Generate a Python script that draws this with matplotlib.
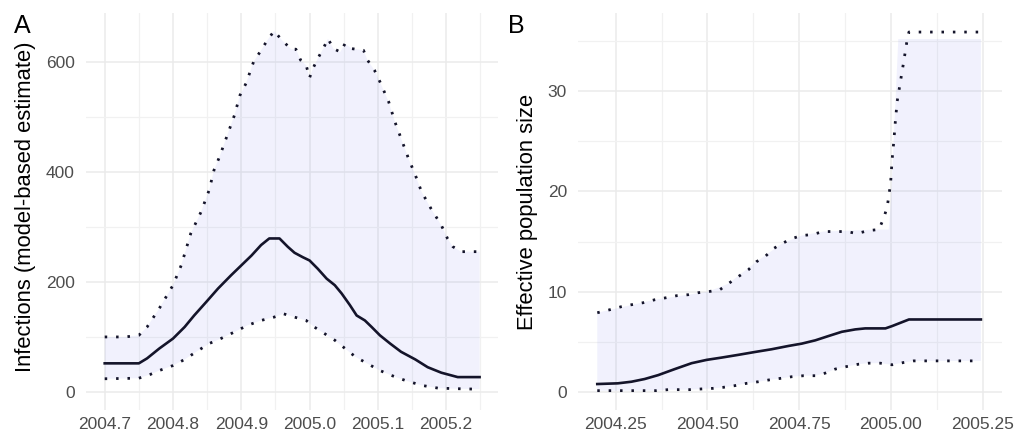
import numpy as np
import matplotlib
matplotlib.use("Agg")
import matplotlib.pyplot as plt
from matplotlib.ticker import MultipleLocator, FormatStrFormatter

plt.rcParams['font.family'] = ['Liberation Sans', 'DejaVu Sans']

# panel A: infections
a_hi_x = [2004.7, 2004.73, 2004.75, 2004.762, 2004.78, 2004.80, 2004.812, 2004.826, 2004.841, 2004.853,
          2004.86, 2004.868, 2004.877, 2004.89, 2004.898, 2004.907, 2004.918, 2004.929, 2004.938, 2004.948,
          2004.96, 2004.973, 2004.98, 2004.987, 2004.995, 2005.0, 2005.005, 2005.012, 2005.02, 2005.027,
          2005.035, 2005.045, 2005.052, 2005.062, 2005.079, 2005.085, 2005.095, 2005.103, 2005.116, 2005.125,
          2005.134, 2005.145, 2005.155, 2005.164, 2005.178, 2005.193, 2005.202, 2005.21, 2005.222, 2005.249]
a_hi = [100, 100, 103, 118, 152, 194, 230, 288, 327, 367,
        403, 427, 458, 503, 539, 561, 600, 621, 639, 656,
        639, 623, 623, 603, 594, 571, 588, 606, 624, 642,
        624, 618, 633, 624, 621, 603, 585, 564, 527, 491,
        461, 424, 394, 364, 333, 303, 279, 264, 255, 255]

a_mid_x = [2004.7, 2004.75, 2004.762, 2004.78, 2004.80, 2004.817, 2004.831, 2004.849, 2004.866, 2004.885,
           2004.9, 2004.915, 2004.929, 2004.941, 2004.956, 2004.968, 2004.978, 2004.99, 2005.0, 2005.012,
           2005.025, 2005.037, 2005.047, 2005.059, 2005.069, 2005.081, 2005.091, 2005.103, 2005.118, 2005.134,
           2005.155, 2005.173, 2005.193, 2005.217, 2005.249]
a_mid = [52, 52, 61, 79, 97, 118, 139, 164, 188, 212,
         230, 248, 267, 279, 279, 264, 253, 245, 239, 224,
         206, 194, 179, 158, 139, 130, 118, 103, 88, 73,
         59, 45, 35, 27, 27]

a_lo_x = [2004.7, 2004.75, 2004.767, 2004.78, 2004.80, 2004.817, 2004.834, 2004.853, 2004.87, 2004.89,
          2004.909, 2004.929, 2004.948, 2004.962, 2004.978, 2004.995, 2005.007, 2005.022, 2005.037, 2005.052,
          2005.067, 2005.087, 2005.103, 2005.12, 2005.14, 2005.164, 2005.188, 2005.213, 2005.249]
a_lo = [24, 25, 32, 39, 48, 59, 73, 88, 97, 109,
        121, 130, 136, 142, 136, 130, 118, 106, 94, 79,
        64, 50, 39, 30, 21, 12, 7, 6, 5]

# panel B: effective population size
b_hi_x = [2004.2, 2004.234, 2004.265, 2004.293, 2004.325, 2004.357, 2004.388, 2004.416, 2004.448, 2004.475,
          2004.502, 2004.534, 2004.557, 2004.584, 2004.612, 2004.634, 2004.657, 2004.68, 2004.703, 2004.73,
          2004.757, 2004.785, 2004.816, 2004.848, 2004.88, 2004.907, 2004.939, 2004.967, 2004.98, 2004.99,
          2004.999, 2005.003, 2005.008, 2005.012, 2005.017, 2005.026, 2005.035, 2005.044, 2005.049, 2005.245]
b_hi = [7.9, 8.2, 8.5, 8.7, 8.9, 9.2, 9.4, 9.6, 9.7, 9.9,
        10.0, 10.2, 10.8, 11.5, 12.2, 13.0, 13.5, 14.3, 14.8, 15.3,
        15.6, 15.7, 16.0, 16.0, 16.0, 15.8, 16.1, 16.2, 17.3, 18.5,
        20.8, 23.1, 25.1, 27.0, 29.0, 31.0, 33.0, 35.1, 35.9, 35.9]

b_mid_x = [2004.2, 2004.256, 2004.293, 2004.329, 2004.366, 2004.411, 2004.457, 2004.498, 2004.539, 2004.584,
           2004.63, 2004.675, 2004.721, 2004.757, 2004.794, 2004.83, 2004.866, 2004.903, 2004.93, 2004.985,
           2005.003, 2005.049, 2005.245]
b_mid = [0.79, 0.86, 1.02, 1.29, 1.68, 2.28, 2.87, 3.2, 3.43, 3.7,
         3.99, 4.26, 4.59, 4.82, 5.15, 5.58, 6.0, 6.24, 6.34, 6.34,
         6.57, 7.23, 7.23]

b_lo_x = [2004.2, 2004.361, 2004.393, 2004.452, 2004.484, 2004.516, 2004.543, 2004.575, 2004.607, 2004.639,
          2004.666, 2004.698, 2004.730, 2004.762, 2004.794, 2004.821, 2004.848, 2004.880, 2004.912, 2004.939,
          2004.971, 2005.003, 2005.035, 2005.062, 2005.245]
b_lo = [0.13, 0.13, 0.23, 0.23, 0.3, 0.36, 0.46, 0.63, 0.86, 1.02,
        1.19, 1.35, 1.52, 1.62, 1.62, 1.88, 2.28, 2.54, 2.77, 2.87,
        2.87, 2.71, 2.94, 3.1, 3.1]

# ribbon top for B jumps more sharply than the dotted bound
b_band_x = [2004.2, 2004.357, 2004.502, 2004.557, 2004.634, 2004.703, 2004.757, 2004.816, 2004.967, 2004.994,
            2005.0, 2005.02, 2005.245]
b_band_hi = [7.9, 9.2, 10.0, 10.8, 13.0, 14.8, 15.6, 16.0, 16.2, 16.2,
             19.0, 35.2, 35.2]

W, H = 1031, 434
fig = plt.figure(figsize=(W / 100, H / 100), dpi=100)

ax_a = fig.add_axes([86 / W, 24 / H, 412 / W, 397 / H])
ax_b = fig.add_axes([578 / W, 24 / H, 424 / W, 397 / H])

line_col = '#14142a'


def draw_panel(ax, hi_x, hi, mid_x, mid, lo_x, lo, band_x, band_hi):
    ax.fill(np.r_[band_x, lo_x[::-1]], np.r_[band_hi, lo[::-1]],
            color=(0.3, 0.35, 0.9), alpha=0.08, lw=0, zorder=2)
    ax.plot(mid_x, mid, color=line_col, lw=1.9, zorder=3)
    for xs, ys in [(hi_x, hi), (lo_x, lo)]:
        ax.plot(xs, ys, color=line_col, lw=2.0, dashes=(0.9, 3.2),
                dash_capstyle='butt', zorder=3)
    for s in ax.spines.values():
        s.set_visible(False)
    ax.grid(which='major', color='#EBEBEB', lw=1.1, zorder=0)
    ax.grid(which='minor', color='#F1F1F1', lw=0.9, zorder=0)
    ax.tick_params(which='both', length=0, labelsize=12.5, labelcolor='#4D4D4D')
    ax.tick_params(axis='x', pad=5)
    ax.tick_params(axis='y', pad=8)
    ax.set_axisbelow(True)


draw_panel(ax_a, a_hi_x, a_hi, a_mid_x, a_mid, a_lo_x, a_lo, a_hi_x, a_hi)
ax_a.set_xlim(2004.6726, 2005.276)
ax_a.set_ylim(-32.8, 688.8)
ax_a.xaxis.set_major_locator(MultipleLocator(0.1))
ax_a.xaxis.set_minor_locator(MultipleLocator(0.05))
ax_a.xaxis.set_major_formatter(FormatStrFormatter('%.1f'))
ax_a.yaxis.set_major_locator(MultipleLocator(200))
ax_a.yaxis.set_minor_locator(MultipleLocator(100))

draw_panel(ax_b, b_hi_x, b_hi, b_mid_x, b_mid, b_lo_x, b_lo, b_band_x, b_band_hi)
ax_b.set_xlim(2004.1475, 2005.3025)
ax_b.set_ylim(-1.8, 37.8)
ax_b.xaxis.set_major_locator(MultipleLocator(0.25))
ax_b.xaxis.set_minor_locator(MultipleLocator(0.125))
ax_b.xaxis.set_major_formatter(FormatStrFormatter('%.2f'))
ax_b.yaxis.set_major_locator(MultipleLocator(10))
ax_b.yaxis.set_minor_locator(MultipleLocator(5))

fig.text(25.5 / W, 1 - 207 / H, 'Infections (model-based estimate)', rotation=90,
         ha='center', va='center', fontsize=15.8, color='black')
fig.text(527.5 / W, 1 - 212 / H, 'Effective population size', rotation=90,
         ha='center', va='center', fontsize=15.8, color='black')

fig.text(14 / W, 1 - 33 / H, 'A', fontsize=18, va='baseline', ha='left')
fig.text(508 / W, 1 - 33 / H, 'B', fontsize=18, va='baseline', ha='left')

fig.savefig('out.png', dpi=100)
